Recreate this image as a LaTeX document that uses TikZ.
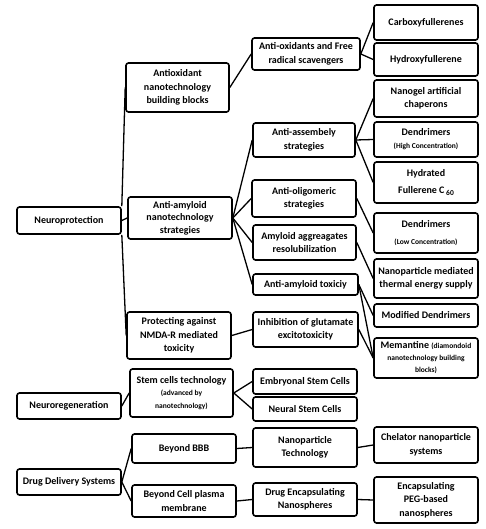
\documentclass[tikz,border=0pt]{standalone}
\usepackage{fontspec}
\setmainfont{Carlito}
\newcommand\smalltxt[1]{{\fontsize{7.5}{9}\selectfont #1}}

\begin{document}
\begin{tikzpicture}[x=1pt, y=-1pt,
        box/.style={draw=black, line width=1.6pt, rounded corners=2.5pt, align=flush center,
            inner sep=1pt, text width=100pt, font=\bfseries\fontsize{10}{13.5}\selectfont},
        link/.style={black, line width=1.3pt}]
        \useasboundingbox (0,0) rectangle (485,529);

        % first column
        \node[box, minimum width=104pt, minimum height=27pt] (np) at (69,220.5) {Neuroprotection};
        \node[box, minimum width=104pt, minimum height=26pt] (nr) at (69,406) {Neuroregeneration};
        \node[box, minimum width=104pt, minimum height=26pt] (dds) at (69,482) {Drug Delivery Systems};

        % second column
        \node[box, minimum width=103pt, minimum height=49pt] (aoxb) at (177.5,87.5) {Antioxidant\\ nanotechnology\\ building blocks};
        \node[box, minimum width=104pt, minimum height=42pt] (aams) at (180,218) {Anti-amyloid\\[-1pt] nanotechnology\\[-1pt] strategies};
        \node[box, minimum width=104pt, minimum height=47pt] (nmda) at (179,335.5) {Protecting against\\ NMDA-R mediated\\ toxicity};
        \node[box, minimum width=103pt, minimum height=48pt] (stem) at (181.5,393) {Stem cells technology\\[-1pt] \smalltxt{(advanced by}\\[-1pt] \smalltxt{nanotechnology)}};
        \node[box, minimum width=104pt, minimum height=29pt] (bbb) at (184,448.5) {Beyond BBB};
        \node[box, minimum width=104pt, minimum height=32pt] (bcpm) at (184,501) {Beyond Cell plasma\\ membrane};

        % third column
        \node[box, minimum width=108pt, minimum height=32pt, text width=104pt] (frs) at (306,54) {Anti-oxidants and Free\\ radical scavengers};
        \node[box, minimum width=102pt, minimum height=34pt] (asm) at (304,140) {Anti-assembely\\ strategies};
        \node[box, minimum width=104pt, minimum height=37pt] (olig) at (304,198.5) {Anti-oligomeric\\ strategies};
        \node[box, minimum width=103pt, minimum height=35pt] (aggr) at (304.5,242.5) {Amyloid aggreagates\\ resolubilization};
        \node[box, minimum width=105pt, minimum height=21pt] (atox) at (305.5,284.5) {Anti-amyloid toxiciy};
        \node[box, minimum width=105pt, minimum height=35pt] (glut) at (305.5,329.5) {Inhibition of glutamate\\ excitotoxicity};
        \node[box, minimum width=104pt, minimum height=25pt] (esc) at (305,381.5) {Embryonal Stem Cells};
        \node[box, minimum width=104pt, minimum height=24pt] (nsc) at (305,409) {Neural Stem Cells};
        \node[box, minimum width=104pt, minimum height=39pt] (npt) at (305,447.5) {Nanoparticle\\ Technology};
        \node[box, minimum width=104pt, minimum height=33pt] (dens) at (305,499.5) {Drug Encapsulating\\ Nanospheres};

        % fourth column
        \node[box, minimum width=104pt, minimum height=35pt] (carb) at (426,22.5) {Carboxyfullerenes};
        \node[box, minimum width=104pt, minimum height=33pt] (hydx) at (426,59.5) {Hydroxyfullerene};
        \node[box, minimum width=104pt, minimum height=37pt] (ngel) at (426,98.5) {Nanogel artificial\\ chaperons};
        \node[box, minimum width=104pt, minimum height=35pt] (dhigh) at (426,139.5) {Dendrimers\\[-0.5pt] \smalltxt{(High Concentration)}};
        \node[box, minimum width=104pt, minimum height=41pt] (hful) at (426,182.5) {Hydrated\\[4pt] Fullerene C\,\raisebox{-1.5pt}{\smalltxt{60}}};
        \node[box, minimum width=104pt, minimum height=40pt] (dlow) at (426,233) {Dendrimers\\[4pt] \smalltxt{(Low Concentration)}};
        \node[box, minimum width=104pt, minimum height=39pt] (therm) at (426,278.5) {Nanoparticle mediated\\ thermal energy supply};
        \node[box, minimum width=104pt, minimum height=23pt] (mdend) at (426,315.5) {Modified Dendrimers};
        \node[box, minimum width=104pt, minimum height=40pt] (meman) at (426,358) {Memantine \smalltxt{(diamondoid}\\[-1.5pt] \smalltxt{nanotechnology building}\\[-1.5pt] \smalltxt{blocks)}};
        \node[box, minimum width=104pt, minimum height=36pt] (chel) at (426,445) {Chelator nanoparticle\\ systems};
        \node[box, minimum width=104pt, minimum height=46pt] (peg) at (426,500) {Encapsulating\\ PEG-based\\ nanospheres};

        % connectors
        \draw[link] (np.north east) -- (aoxb.west);
        \draw[link] (np.east) -- (aams.west);
        \draw[link] (np.south east) -- (nmda.west);
        \draw[link] (nr.east) -- (stem.west);
        \draw[link] (dds.east) -- (bbb.west);
        \draw[link] (dds.east) -- (bcpm.west);

        \draw[link] (aoxb.east) -- (frs.west);
        \draw[link] (aams.east) -- (asm.west);
        \draw[link] (aams.east) -- (olig.west);
        \draw[link] (aams.east) -- (aggr.west);
        \draw[link] (aams.east) -- (atox.west);
        \draw[link] (nmda.east) -- (glut.west);
        \draw[link] (stem.east) -- (esc.west);
        \draw[link] (stem.east) -- (nsc.west);
        \draw[link] (bbb.east) -- (npt.west);
        \draw[link] (bcpm.east) -- (dens.west);

        \draw[link] (frs.east) -- (carb.west);
        \draw[link] (frs.east) -- (hydx.west);
        \draw[link] (asm.east) -- (ngel.west);
        \draw[link] (asm.east) -- (dhigh.west);
        \draw[link] (asm.east) -- (hful.west);
        \draw[link] (olig.east) -- (dlow.west);
        \draw[link] (aggr.east) -- (therm.west);
        \draw[link] (atox.east) -- (mdend.west);
        \draw[link] (atox.east) -- (meman.west);
        \draw[link] (glut.east) -- (meman.west);
        \draw[link] (npt.east) -- (chel.west);
        \draw[link] (dens.east) -- (peg.west);
\end{tikzpicture}
\end{document}
